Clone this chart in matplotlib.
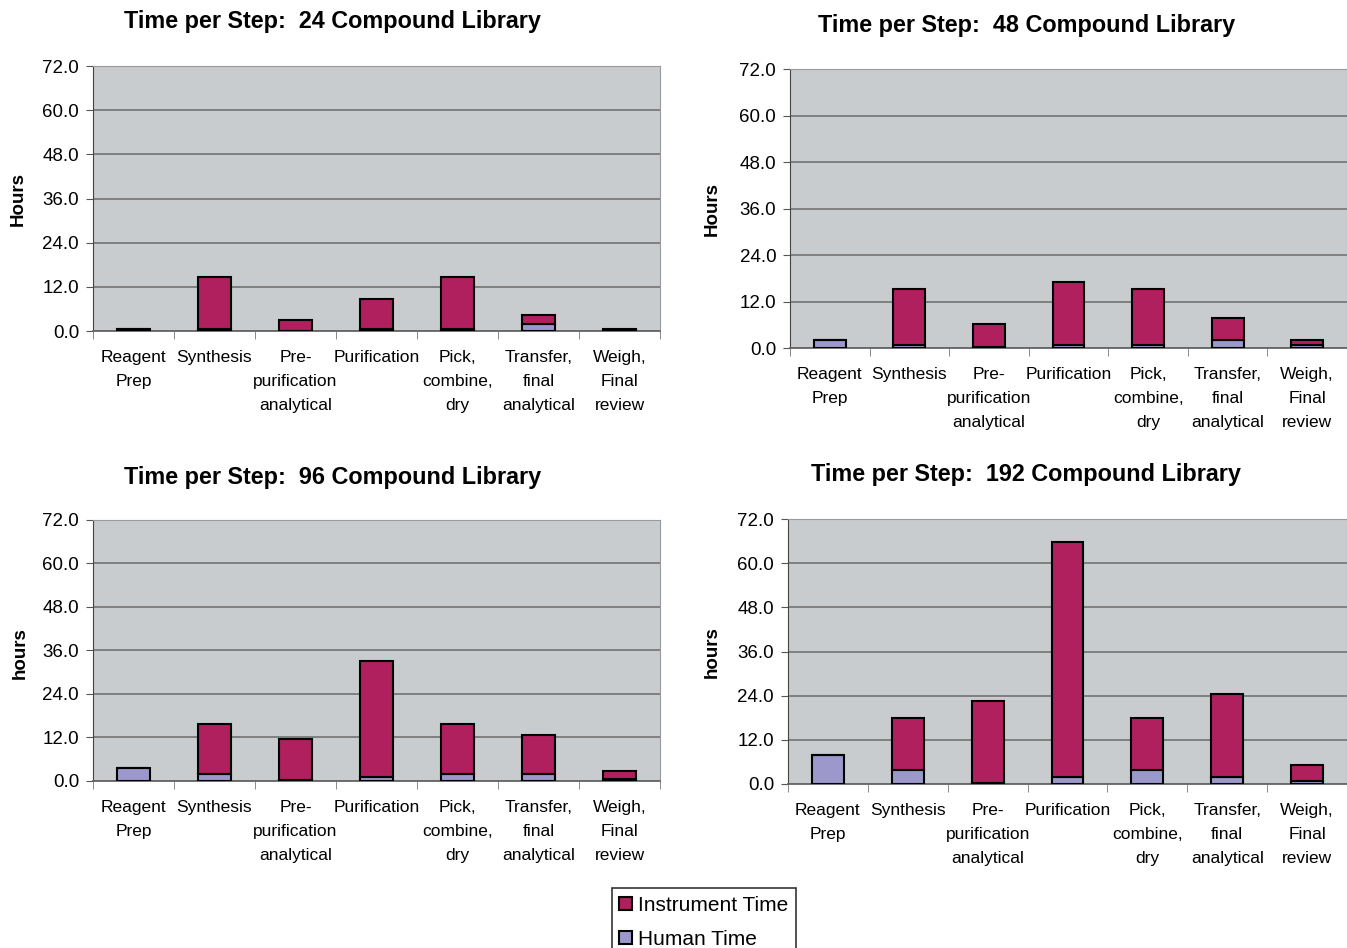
import numpy as np
import matplotlib.pyplot as plt

plt.rcParams['font.family'] = ['Liberation Sans', 'DejaVu Sans']

# Categories (steps)
steps = ["Reagent\nPrep", "Synthesis", "Pre-\npurification\nanalytical", "Purification",
         "Pick,\ncombine,\ndry", "Transfer,\nfinal\nanalytical", "Weigh,\nFinal\nreview"]

# Hours per step
human_24 = [0.6, 0.5, 0.1, 0.5, 0.5, 2.0, 0.3]
instr_24 = [0.0, 14.3, 2.9, 8.1, 14.3, 2.4, 0.2]

human_48 = [2.0, 0.8, 0.2, 0.8, 0.8, 2.0, 0.7]
instr_48 = [0.0, 14.3, 6.1, 16.3, 14.3, 5.7, 1.4]

human_96 = [3.7, 1.9, 0.3, 1.0, 1.9, 1.9, 0.6]
instr_96 = [0.0, 13.9, 11.2, 32.2, 13.9, 10.7, 2.2]

human_192 = [8.0, 3.8, 0.4, 2.0, 3.8, 2.0, 0.9]
instr_192 = [0.0, 14.1, 22.2, 63.8, 14.1, 22.4, 4.2]

titles = ["Time per Step:  24 Compound Library", "Time per Step:  48 Compound Library",
          "Time per Step:  96 Compound Library", "Time per Step:  192 Compound Library"]
ylabels = ["Hours", "Hours", "hours", "hours"]

inst_color = "#B01F5E"
human_color = "#9C98CC"
bg_color = "#C9CCCF"

fig = plt.figure(figsize=(13.47, 9.48), dpi=100)

# axes positions in figure fractions
positions = [[0.069, 0.6508, 0.421, 0.2795],
             [0.5865, 0.6329, 0.4135, 0.2943],
             [0.069, 0.1762, 0.421, 0.2753],
             [0.585, 0.173, 0.415, 0.2795]]
title_xy = [(0.247, 0.977), (0.762, 0.9726), (0.247, 0.4968), (0.762, 0.499)]
ylabel_xy = [(0.0134, 0.79), (0.529, 0.78), (0.0148, 0.311), (0.529, 0.312)]

data = [(human_24, instr_24), (human_48, instr_48), (human_96, instr_96), (human_192, instr_192)]

x = np.arange(len(steps))
for i in range(4):
    ax = fig.add_axes(positions[i])
    human, instr = data[i]
    ax.set_facecolor(bg_color)
    ax.bar(x, human, width=0.4, color=human_color, edgecolor="black", linewidth=1.5,
           label="Human Time", zorder=3)
    ax.bar(x, instr, width=0.4, bottom=human, color=inst_color, edgecolor="black",
           linewidth=1.5, label="Instrument Time", zorder=3)
    ax.set_ylim(0, 72)
    ax.set_xlim(-0.5, len(steps) - 0.5)
    ax.set_yticks(np.arange(0, 73, 12))
    ax.set_yticklabels(["%.1f" % v for v in np.arange(0, 73, 12)], fontsize=13.5)
    ax.yaxis.grid(True, color="#7a7a7a", linewidth=1.3, zorder=0)
    ax.set_axisbelow(True)
    ax.set_xticks(x)
    ax.set_xticklabels(steps, fontsize=12.5, linespacing=1.75, va="top")
    ax.tick_params(axis="x", which="major", length=0, pad=14)
    ax.set_xticks(np.arange(-0.5, len(steps), 1), minor=True)
    ax.tick_params(axis="x", which="minor", length=6, color="#777777")
    ax.tick_params(axis="y", length=5, color="#555555", pad=5)
    for s in ["top", "right"]:
        ax.spines[s].set_color("#9a9a9a")
    ax.spines["left"].set_color("#444444")
    ax.spines["bottom"].set_color("#666666")
    ax.spines["bottom"].set_linewidth(1.3)
    fig.text(title_xy[i][0], title_xy[i][1], titles[i], fontsize=16.8, fontweight="bold",
             ha="center", va="center")
    fig.text(ylabel_xy[i][0], ylabel_xy[i][1], ylabels[i], fontsize=13.5, fontweight="bold",
             rotation=90, ha="center", va="center")
    if i == 0:
        handles, labels = ax.get_legend_handles_labels()

leg = fig.legend(handles[::-1], labels[::-1], loc="upper center", bbox_to_anchor=(0.5225, 0.074),
                 fontsize=15, frameon=True, fancybox=False, edgecolor="black",
                 handlelength=0.6, handleheight=0.6, handletextpad=0.3, borderpad=0.35,
                 labelspacing=0.75)
leg.get_frame().set_linewidth(1.2)

plt.savefig("out.png", dpi=100)
